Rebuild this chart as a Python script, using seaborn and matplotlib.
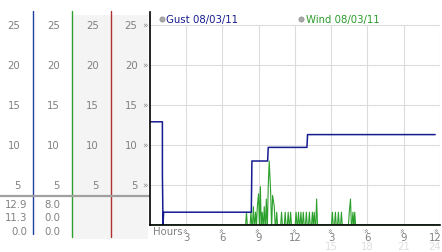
import numpy as np
import pandas as pd
import matplotlib
matplotlib.use("Agg")
import matplotlib.pyplot as plt
import matplotlib.transforms as mtransforms
from matplotlib.patches import Rectangle
import seaborn as sns

# ---------------- data ----------------
gust_hours = [0.0, 1.05, 1.05, 1.1, 1.15, 8.4, 8.45, 9.75, 9.8, 13.0, 13.05, 23.6]
gust_values = [12.9, 12.9, 6.4, 0.0, 1.6, 1.6, 8.0, 8.0, 9.7, 9.7, 11.3, 11.3]

wind_spike_hours = [8.0, 8.37, 8.57, 8.75, 8.9, 9.0, 9.15, 9.3, 9.47, 9.64, 9.8, 9.88,
                    10.0, 10.16, 10.3, 10.5, 10.9, 11.2, 11.45, 11.65, 12.1, 12.3, 12.5,
                    12.7, 12.95, 13.2, 13.45, 13.6, 13.8, 15.1, 15.35, 15.6, 15.85, 16.5,
                    16.6, 16.8, 16.95]
wind_spike_values = [1.6, 1.6, 2.3, 1.6, 2.3, 3.9, 4.8, 1.6, 2.3, 3.25, 4.8, 8.0,
                     4.1, 3.7, 2.3, 1.6, 1.6, 1.6, 1.6, 1.6, 1.6, 1.6, 1.6,
                     1.6, 1.6, 1.6, 1.6, 1.6, 3.25, 1.6, 1.6, 1.6, 1.6, 1.6,
                     3.25, 1.6, 1.6]
wind_start, wind_end = 0.0, 24.0

y_ticks = [5, 10, 15, 20, 25]
x_ticks = [3, 6, 9, 12, 15, 18, 21, 24]
x_tick_labels = ["3", "6", "9", "12", "3", "6", "9", "12"]
x_tick_labels2 = {15: "15", 18: "18", 21: "21", 24: "24"}

gust_label = "Gust 08/03/11"
wind_label = "Wind 08/03/11"
gust_table = ["12.9", "11.3", "0.0"]
wind_table = ["8.0", "0.0", "0.0"]

# build wind polyline (spikes from baseline)
half = 0.07
wt, wv = [wind_start], [0.0]
for i, (t, v) in enumerate(zip(wind_spike_hours, wind_spike_values)):
    prev_t = wind_spike_hours[i - 1] if i > 0 else -99
    if t - half > prev_t + half:
        wt.append(t - half); wv.append(0.0)
    wt.append(t); wv.append(v)
    nxt = wind_spike_hours[i + 1] if i + 1 < len(wind_spike_hours) else 99
    if t + half < nxt - half:
        wt.append(t + half); wv.append(0.0)
wt.append(wind_end); wv.append(0.0)

gust_df = pd.DataFrame({"hour": gust_hours, "value": gust_values})
wind_df = pd.DataFrame({"hour": wt, "value": wv})

# ---------------- style ----------------
sns.set_theme(style="white")
plt.rcParams["font.family"] = ["DejaVu Sans"]

W, H = 442, 253
fig = plt.figure(figsize=(W / 100, H / 100), dpi=100)
fig.patch.set_facecolor("white")

bg = fig.add_axes([0, 0, 1, 1], zorder=0)
bg.set_xlim(0, W)
bg.set_ylim(H, 0)
bg.axis("off")

x0_px, x24_px = 149.7, 440.0
y0_px, ytop_px = 226.0, 13.0
px_per_unit = 8.0
ymax = (y0_px - ytop_px) / px_per_unit

ax = fig.add_axes([x0_px / W, (H - y0_px) / H, (x24_px - x0_px) / W, (y0_px - ytop_px) / H], zorder=2)
ax.set_facecolor("none")
ax.set_xlim(0, 24)
ax.set_ylim(0, ymax)
ax.set_xticks([])
ax.set_yticks([])
for s in ["top", "right"]:
    ax.spines[s].set_visible(False)
for s in ["left", "bottom"]:
    ax.spines[s].set_color("black")
    ax.spines[s].set_linewidth(1.2)
    ax.spines[s].set_zorder(5)

grid_c = "#dcdcdc"
ax.hlines(y_ticks, 0, 24, color=grid_c, lw=0.8, zorder=0)
ax.vlines(x_ticks, 0, 25, color=grid_c, lw=0.8, zorder=0)

gust_c = "#161b8f"
wind_c = "#2ca02c"
sns.lineplot(data=wind_df, x="hour", y="value", ax=ax, color=wind_c, lw=0.8,
             estimator=None, sort=False, zorder=3)
sns.lineplot(data=gust_df, x="hour", y="value", ax=ax, color=gust_c, lw=1.1,
             estimator=None, sort=False, zorder=4)
ax.set_xlabel("")
ax.set_ylabel("")

# ---------------- left panel ----------------
bg.add_patch(Rectangle((72, 16), 76, 224, color="#f4f4f4", lw=0, zorder=0))
bg.plot([33, 33], [12, 235], color="#1f3f9f", lw=1.0, zorder=1)
bg.plot([72, 72], [12, 238], color="#2f9f2f", lw=1.0, zorder=1)
bg.plot([111, 111], [12, 238], color="#b03030", lw=1.0, zorder=1)
bg.plot([0, 149], [197, 197], color="#a0a0a0", lw=1.6, zorder=2)

lab_c = "#808080"
chev_c = "#8c8c8c"
fs = 7.3
ytr = mtransforms.blended_transform_factory(bg.transData, ax.transData)
for v in y_ticks:
    for xr in [20.5, 60, 99, 137.5]:
        bg.text(xr, v, str(v), transform=ytr, ha="right", va="center",
                fontsize=fs, color=lab_c)
    bg.text(145.3, v, "»", transform=ytr, ha="center", va="center",
            fontsize=6.5, color=chev_c)

for i, (g, w) in enumerate(zip(gust_table, wind_table)):
    yy = 205 + i * 13.5
    bg.text(27.5, yy, g, ha="right", va="center", fontsize=fs, color=lab_c)
    bg.text(60, yy, w, ha="right", va="center", fontsize=fs, color=lab_c)

# ---------------- x tick labels ----------------
xtr = mtransforms.blended_transform_factory(ax.transData, bg.transData)
bg.text(153, 232, "Hours", ha="left", va="center", fontsize=fs, color=lab_c)
for h, lab in zip(x_ticks, x_tick_labels):
    last = h == x_ticks[-1]
    ha = "right" if last else "center"
    hx = h + (0.1 if last else 0.0)
    cx = h - (0.2 if last else 0.0)
    bg.text(cx, 230, "»", transform=xtr, ha="center", va="center",
            fontsize=6.5, color=chev_c, rotation=90)
    bg.text(hx, 238, lab, transform=xtr, ha=ha, va="center",
            fontsize=fs, color=lab_c)
    if h in x_tick_labels2:
        bg.text(hx, 247.5, x_tick_labels2[h], transform=xtr, ha=ha,
                va="center", fontsize=fs, color="#dedede")

# ---------------- legend ----------------
bg.scatter([162, 301], [20, 20], s=14, color="#a8a8a8", edgecolor="#909090",
           lw=0.5, zorder=5)
bg.text(166.5, 20, gust_label, ha="left", va="center", fontsize=fs, color=gust_c)
bg.text(305.5, 20, wind_label, ha="left", va="center", fontsize=fs, color="#2a9a2a")

fig.savefig("out.png", dpi=100)
